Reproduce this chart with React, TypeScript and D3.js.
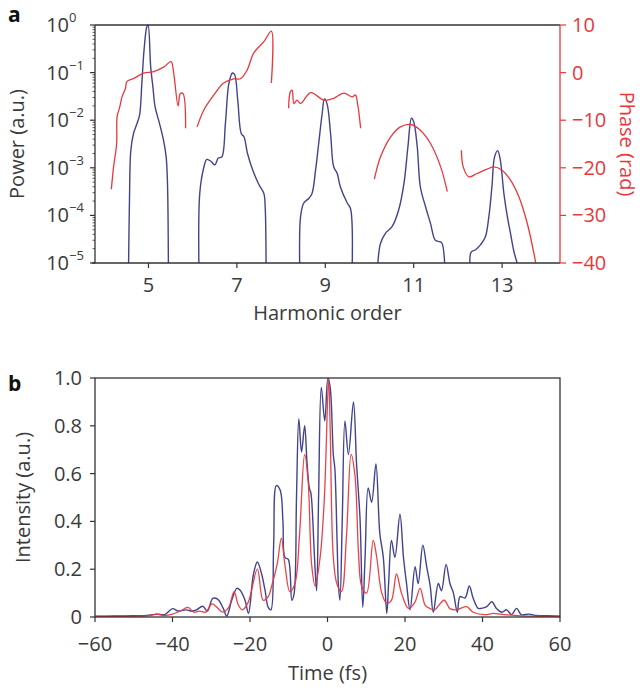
import React from "react";
import * as d3 from "d3";

// ---------- Panel a data ----------
const harmonicTicks = [5, 7, 9, 11, 13];
const powerExponents = [0, -1, -2, -3, -4, -5];
const phaseTicks = [10, 0, -10, -20, -30, -40];

// spectral power of each harmonic [harmonic order, power]
const powerH5: [number, number][] = [
  [4.55, 1e-5], [4.57, 2.1e-4], [4.6, 2.3e-3], [4.66, 5.2e-3], [4.74, 8.5e-3], [4.8, 1.3e-2],
  [4.85, 6e-2], [4.9, 0.3], [4.96, 0.9], [4.99, 1.0], [5.05, 0.13], [5.1, 0.05], [5.15, 0.019],
  [5.25, 8.5e-3], [5.34, 3.8e-3], [5.4, 1.7e-3], [5.43, 4.7e-4], [5.45, 1e-5],
];
const powerH7: [number, number][] = [
  [6.14, 1e-5], [6.16, 2.9e-4], [6.25, 1.0e-3], [6.32, 1.5e-3], [6.42, 1.35e-3], [6.5, 1.15e-3],
  [6.58, 1.6e-3], [6.66, 1.7e-3], [6.74, 8.5e-3], [6.82, 0.06], [6.9, 0.098], [6.95, 0.09],
  [7.02, 0.026], [7.1, 5.2e-3], [7.16, 4.5e-3], [7.24, 2e-3], [7.36, 8.9e-4], [7.5, 4.4e-4],
  [7.61, 2.9e-4], [7.64, 1.5e-4], [7.66, 1e-5],
];
const powerH9: [number, number][] = [
  [8.42, 1e-5], [8.44, 9.3e-5], [8.51, 1.8e-4], [8.63, 2.3e-4], [8.7, 2.9e-4], [8.78, 8.9e-4],
  [8.85, 3.2e-3], [8.93, 0.014], [8.98, 0.028], [9.04, 0.022], [9.12, 5.2e-3], [9.19, 1.05e-3],
  [9.27, 7.6e-4], [9.34, 4e-4], [9.5, 1.8e-4], [9.57, 1.4e-4], [9.61, 1e-5],
];
const powerH11: [number, number][] = [
  [10.19, 1e-5], [10.25, 2.6e-5], [10.36, 4.2e-5], [10.51, 5.8e-5], [10.66, 1.3e-4], [10.78, 4.7e-4],
  [10.87, 2.8e-3], [10.95, 0.011], [11.0, 9.3e-3], [11.08, 2.8e-3], [11.15, 4e-4], [11.27, 1.5e-4],
  [11.38, 6.8e-5], [11.49, 3e-5], [11.59, 2.8e-5], [11.64, 2.6e-5], [11.7, 1e-5],
];
const powerH13: [number, number][] = [
  [12.27, 1e-5], [12.3, 1.7e-5], [12.4, 1.9e-5], [12.51, 2.4e-5], [12.62, 3.5e-5], [12.7, 9.3e-5],
  [12.77, 4e-4], [12.83, 1.7e-3], [12.9, 2.3e-3], [12.96, 1.45e-3], [13.04, 2.9e-4], [13.12, 9.3e-5],
  [13.19, 4.2e-5], [13.27, 1.7e-5], [13.34, 1e-5],
];

// spectral phase [harmonic order, phase (rad)]
const phaseH5: [number, number][] = [
  [4.16, -24.5], [4.21, -19.8], [4.28, -14.9], [4.29, -9.3], [4.35, -7.2], [4.4, -5.1], [4.48, -3.3],
  [4.51, -1.9], [4.67, -1.2], [4.89, -0.1], [5.12, 0.2], [5.35, 1.2], [5.51, 2.3], [5.57, -0.1],
  [5.67, -7.0], [5.72, -4.4], [5.78, -4.4], [5.84, -11.7],
];
const phaseH7: [number, number][] = [
  [6.1, -11.4], [6.25, -7.9], [6.48, -4.7], [6.7, -2.2], [6.93, -1.3], [7.08, -1.3], [7.23, 0.5],
  [7.38, 4.1], [7.61, 6.5], [7.78, 8.7], [7.78, -2.2],
];
const phaseH9: [number, number][] = [
  [8.17, -7.5], [8.21, -4.0], [8.25, -3.7], [8.29, -6.5], [8.36, -5.8], [8.44, -6.5], [8.67, -4.2],
  [8.97, -5.8], [9.19, -5.4], [9.42, -4.3], [9.61, -5.1], [9.68, -4.7], [9.73, -6.5], [9.8, -11.7],
];
const phaseH11: [number, number][] = [
  [10.11, -22.4], [10.25, -17.7], [10.48, -13.5], [10.7, -11.4], [10.93, -10.9], [11.15, -12.1],
  [11.38, -14.9], [11.61, -19.8], [11.76, -25.0],
];
const phaseH13: [number, number][] = [
  [12.08, -16.3], [12.12, -19.8], [12.25, -21.9], [12.43, -21.2], [12.66, -20.3], [12.81, -19.8],
  [13.0, -20.5], [13.19, -22.6], [13.38, -26.1], [13.57, -31.7], [13.76, -39.9],
];

// ---------- Panel b data ----------
const timeTicks = [-60, -40, -20, 0, 20, 40, 60];
const intensityTicks = [0, 0.2, 0.4, 0.6, 0.8, 1.0];

// [time (fs), intensity]
const intensityBlue: [number, number][] = [
  [-60, 0.003], [-55, 0.004], [-50, 0.005], [-46, 0.008], [-44, 0.012], [-42, 0.01], [-40, 0.035],
  [-38.5, 0.025], [-36.5, 0.03], [-35, 0.025], [-33.8, 0.03], [-32.2, 0.045], [-31, 0.025],
  [-29.6, 0.078], [-28.3, 0.074], [-26.9, 0.036], [-26, 0.004], [-24.7, 0.071], [-23.4, 0.12],
  [-22.6, 0.113], [-21.3, 0.071], [-20.4, 0.015], [-19.1, 0.18], [-18.1, 0.23], [-17.0, 0.18],
  [-16.1, 0.11], [-15.3, 0.04], [-14.6, 0.03], [-13.9, 0.3], [-13.2, 0.55], [-12.2, 0.53],
  [-11.5, 0.4], [-11.0, 0.25], [-10.1, 0.24], [-9.2, 0.07], [-8.6, 0.1], [-8.0, 0.5], [-7.4, 0.83],
  [-6.7, 0.69], [-5.9, 0.8], [-5.3, 0.65], [-4.7, 0.54], [-4.3, 0.52], [-3.5, 0.3], [-3.2, 0.2],
  [-2.8, 0.11], [-2.3, 0.5], [-1.6, 0.96], [-0.7, 0.82], [0.1, 1.0], [0.7, 0.96], [1.5, 0.68],
  [1.9, 0.62], [2.5, 0.3], [2.8, 0.14], [3.2, 0.07], [3.8, 0.4], [4.5, 0.82], [5.4, 0.68],
  [6.7, 0.9], [7.5, 0.64], [8.4, 0.41], [9.1, 0.04], [9.7, 0.25], [10.5, 0.54], [11.4, 0.48],
  [12.5, 0.64], [13.5, 0.35], [14.4, 0.25], [15.3, 0.015], [15.8, 0.15], [16.5, 0.32], [17.4, 0.25],
  [18.7, 0.43], [19.6, 0.25], [20.4, 0.14], [21.3, 0.03], [22.6, 0.21], [23.4, 0.14], [24.6, 0.3],
  [25.6, 0.21], [26.5, 0.13], [27.3, 0.02], [28.6, 0.14], [29.4, 0.11], [30.6, 0.22], [31.6, 0.14],
  [32.5, 0.1], [33.5, 0.02], [34.2, 0.085], [35.5, 0.08], [36.6, 0.13], [37.6, 0.078], [38.9, 0.036],
  [39.7, 0.036], [41.1, 0.043], [42.4, 0.064], [43.6, 0.036], [45, 0.02], [46.2, 0.03], [47.5, 0.01],
  [48.8, 0.036], [50, 0.01], [52, 0.012], [54, 0.006], [57, 0.005], [60, 0.003],
];
const intensityRed: [number, number][] = [
  [-60, 0.002], [-50, 0.003], [-46, 0.006], [-44, 0.012], [-42, 0.006], [-40, 0.012], [-38, 0.025],
  [-36, 0.04], [-34.5, 0.02], [-33, 0.025], [-31.5, 0.02], [-29.8, 0.055], [-28.5, 0.04], [-27, 0.02],
  [-25.5, 0.04], [-24.1, 0.106], [-23, 0.05], [-22, 0.03], [-20.5, 0.06], [-18.1, 0.2], [-16.6, 0.07],
  [-15.3, 0.085], [-14.4, 0.13], [-13, 0.22], [-11.9, 0.33], [-11.0, 0.22], [-9.7, 0.106], [-8.4, 0.14],
  [-7.2, 0.35], [-5.9, 0.68], [-5.0, 0.57], [-4.1, 0.22], [-3.2, 0.13], [-1.9, 0.25], [-0.8, 0.5],
  [0.3, 1.0], [0.7, 0.78], [1.5, 0.25], [2.4, 0.14], [3.6, 0.106], [4.9, 0.34], [6.1, 0.68], [7.1, 0.59],
  [8.0, 0.27], [8.8, 0.13], [10.1, 0.1], [11.8, 0.32], [12.7, 0.25], [14.0, 0.1], [15.3, 0.057],
  [16.5, 0.07], [17.8, 0.18], [19.1, 0.1], [20.9, 0.036], [22.5, 0.06], [23.9, 0.12], [25.2, 0.05],
  [26.5, 0.035], [27.6, 0.03], [30.1, 0.07], [31.6, 0.035], [33.1, 0.03], [35.9, 0.043], [37.6, 0.02],
  [40.6, 0.01], [42.8, 0.015], [45.6, 0.01], [50, 0.005], [55, 0.003], [60, 0.002],
];

const FONT = "'Open Sans', 'Noto Sans', sans-serif";
const TXT = "#3a3a3a";
const AX = "#333";
const BLUE = "#2c2f82";
const RED = "#e8383d";
const FS = 20;

const W = 643;
const H = 690;

export default function App() {
  // panel a scales
  const L = 95, R = 560;
  const aTop = 25, aBot = 263;
  const xA = d3.scaleLinear().domain([3.79, 14.31]).range([L, R]);
  const yPow = d3.scaleLog().domain([1e-5, 1]).range([aBot, aTop]);
  const yPh = d3.scaleLinear().domain([-40, 10]).range([aBot, aTop]);

  // panel b scales
  const bTop = 378, bBot = 617;
  const xB = d3.scaleLinear().domain([-60, 60]).range([L, R]);
  const yI = d3.scaleLinear().domain([0, 1]).range([bBot, bTop]);

  const powLine = d3
    .line<[number, number]>()
    .x((d) => xA(d[0]))
    .y((d) => yPow(d[1]))
    .curve(d3.curveCatmullRom.alpha(0.5));
  const phLine = d3
    .line<[number, number]>()
    .x((d) => xA(d[0]))
    .y((d) => yPh(d[1]))
    .curve(d3.curveCatmullRom.alpha(0.5));
  const intLine = d3
    .line<[number, number]>()
    .x((d) => xB(d[0]))
    .y((d) => yI(d[1]))
    .curve(d3.curveCatmullRom.alpha(0.5));

  const powerSeries = [powerH5, powerH7, powerH9, powerH11, powerH13];
  const phaseSeries = [phaseH5, phaseH7, phaseH9, phaseH11, phaseH13];

  // minor log ticks
  const minorTicks: number[] = [];
  for (let e = -5; e < 0; e++) {
    for (let m = 2; m <= 9; m++) minorTicks.push(m * Math.pow(10, e));
  }

  const fmtMinus = (v: number) => (v < 0 ? "\u2212" + Math.abs(v) : String(v));
  const fmtI = (v: number) => (v === 0 ? "0" : v.toFixed(1));

  return (
    <div style={{ position: "absolute", left: 0, top: 0, width: W, height: H, background: "#fff" }}>
      <svg width={W} height={H} style={{ display: "block" }} fontFamily={FONT}>
        {/* ---------------- Panel a ---------------- */}
        <text x={8} y={22} fontSize={21} fontWeight="bold" fill="#111">a</text>

        <defs>
          <clipPath id="clipA">
            <rect x={L} y={aTop - 2} width={R - L} height={aBot - aTop + 2} />
          </clipPath>
          <clipPath id="clipB">
            <rect x={L} y={bTop} width={R - L} height={bBot - bTop} />
          </clipPath>
        </defs>

        <g clipPath="url(#clipA)" fill="none">
          {powerSeries.map((s, i) => (
            <path key={"p" + i} d={powLine(s) || ""} stroke={BLUE} strokeWidth={1.4} strokeOpacity={0.9} />
          ))}
          {phaseSeries.map((s, i) => (
            <path key={"ph" + i} d={phLine(s) || ""} stroke={RED} strokeWidth={1.3} />
          ))}
        </g>

        {/* frame a */}
        <line x1={L} x2={R} y1={aTop} y2={aTop} stroke={AX} strokeWidth={1.3} />
        <line x1={L} x2={L} y1={aTop} y2={aBot} stroke={AX} strokeWidth={1.3} />
        <line x1={L - 3} x2={R} y1={aBot} y2={aBot} stroke={AX} strokeWidth={1.3} />
        <line x1={R} x2={R} y1={aTop} y2={aBot} stroke={RED} strokeWidth={1.3} />

        {/* left log ticks */}
        {minorTicks.map((v, i) => (
          <line key={"mn" + i} x1={L - 2.5} x2={L} y1={yPow(v)} y2={yPow(v)} stroke={AX} strokeWidth={0.8} />
        ))}
        {powerExponents.map((e) => (
          <g key={"pe" + e}>
            <line x1={L - 5} x2={L} y1={yPow(Math.pow(10, e))} y2={yPow(Math.pow(10, e))} stroke={AX} strokeWidth={1.2} />
            <text x={69} y={yPow(Math.pow(10, e)) + 7} fontSize={FS} fill={TXT} textAnchor="end">
              10
            </text>
            <text x={69} y={yPow(Math.pow(10, e)) - 3} fontSize={13} fill={TXT} textAnchor="start">
              {e === 0 ? "0" : "\u2212" + Math.abs(e)}
            </text>
          </g>
        ))}

        {/* bottom ticks a */}
        {harmonicTicks.map((h) => (
          <g key={"h" + h}>
            <line x1={xA(h)} x2={xA(h)} y1={aBot} y2={aBot + 5} stroke={AX} strokeWidth={1.2} />
            <text x={xA(h)} y={aBot + 29} fontSize={FS} fill={TXT} textAnchor="middle">
              {h}
            </text>
          </g>
        ))}
        <text x={(L + R) / 2} y={320} fontSize={FS} fill={TXT} textAnchor="middle">
          Harmonic order
        </text>

        {/* right phase axis */}
        {phaseTicks.map((p) => (
          <g key={"pt" + p}>
            <line x1={R} x2={R + 6} y1={yPh(p)} y2={yPh(p)} stroke={RED} strokeWidth={1.2} />
            <text x={R + 12} y={yPh(p) + 7} fontSize={FS} fill={RED} textAnchor="start">
              {fmtMinus(p)}
            </text>
          </g>
        ))}
        <text
          transform={`translate(${620},${(aTop + aBot) / 2}) rotate(90)`}
          fontSize={FS}
          fill={RED}
          textAnchor="middle"
        >
          Phase (rad)
        </text>
        <text
          transform={`translate(${24},${(aTop + aBot) / 2}) rotate(-90)`}
          fontSize={FS}
          fill={TXT}
          textAnchor="middle"
        >
          Power (a.u.)
        </text>

        {/* ---------------- Panel b ---------------- */}
        <text x={8} y={391} fontSize={21} fontWeight="bold" fill="#111">b</text>

        <g clipPath="url(#clipB)" fill="none">
          <path d={intLine(intensityBlue) || ""} stroke={BLUE} strokeWidth={1.4} strokeOpacity={0.9} />
          <path d={intLine(intensityRed) || ""} stroke={RED} strokeWidth={1.3} strokeOpacity={0.95} />
        </g>

        <rect x={L} y={bTop} width={R - L} height={bBot - bTop} fill="none" stroke={AX} strokeWidth={1.3} />

        {intensityTicks.map((v) => (
          <g key={"it" + v}>
            <line x1={L - 5} x2={L} y1={yI(v)} y2={yI(v)} stroke={AX} strokeWidth={1.2} />
            <text x={82} y={yI(v) + 7} fontSize={FS} fill={TXT} textAnchor="end">
              {fmtI(v)}
            </text>
          </g>
        ))}
        {timeTicks.map((t) => (
          <g key={"tt" + t}>
            <line x1={xB(t)} x2={xB(t)} y1={bBot} y2={bBot + 5} stroke={AX} strokeWidth={1.2} />
            <text x={xB(t)} y={bBot + 34} fontSize={FS} fill={TXT} textAnchor="middle">
              {fmtMinus(t)}
            </text>
          </g>
        ))}
        <text x={(L + R) / 2} y={680} fontSize={FS} fill={TXT} textAnchor="middle">
          Time (fs)
        </text>
        <text
          transform={`translate(${30},${(bTop + bBot) / 2}) rotate(-90)`}
          fontSize={FS}
          fill={TXT}
          textAnchor="middle"
        >
          Intensity (a.u.)
        </text>
      </svg>
    </div>
  );
}
